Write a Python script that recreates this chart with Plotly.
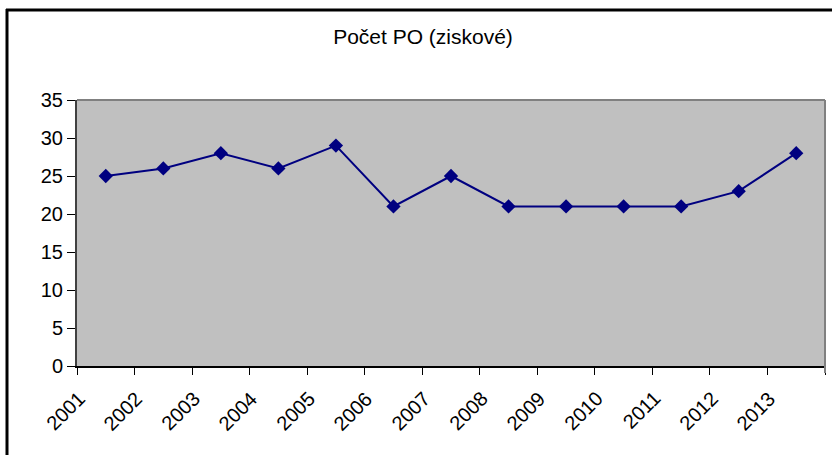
import plotly.graph_objects as go

years = ["2001", "2002", "2003", "2004", "2005", "2006", "2007",
         "2008", "2009", "2010", "2011", "2012", "2013"]
values = [25, 26, 28, 26, 29, 21, 25, 21, 21, 21, 21, 23, 28]
y_ticks = [0, 5, 10, 15, 20, 25, 30, 35]
title_text = "Počet PO (ziskové)"

W, H = 832, 455
L, R, T, B = 77, 825, 100, 366
FAM = "Liberation Sans, Arial, sans-serif"

fig = go.Figure()
fig.add_trace(go.Scatter(
    x=years, y=values, mode="lines+markers",
    line=dict(color="#000080", width=2),
    marker=dict(symbol="diamond", size=11, color="#000080"),
    showlegend=False, cliponaxis=False,
))

# rotated category labels placed below the axis (positioned by category index)
annotations = [
    dict(x=i, y=0, xref="x", yref="y", text=yr, showarrow=False,
         textangle=-45, xanchor="right", yanchor="top",
         xshift=-14, yshift=-18,
         font=dict(family=FAM, size=20, color="black"))
    for i, yr in enumerate(years)
]

fig.update_layout(
    width=W, height=H,
    margin=dict(l=L, r=W - R, t=T, b=H - B, pad=0, autoexpand=False),
    paper_bgcolor="white", plot_bgcolor="#C0C0C0",
    font=dict(family=FAM, size=20, color="black"),
    title=dict(text=title_text, x=423 / W, xanchor="center",
               y=1 - 37 / H, yanchor="middle", automargin=False,
               font=dict(family=FAM, size=21, color="black")),
    xaxis=dict(
        type="category", range=[-0.5, len(years) - 0.5], automargin=False,
        tickson="boundaries", ticks="outside", ticklen=7, tickwidth=1, tickcolor="black",
        showticklabels=False, showgrid=False, zeroline=False,
        showline=True, linecolor="black", linewidth=2,
    ),
    yaxis=dict(
        range=[0, 35], tickvals=y_ticks, ticks="outside", ticklen=8, tickwidth=1,
        tickcolor="black", showgrid=False, zeroline=False, automargin=False,
        showline=True, linecolor="#404040", linewidth=2,
        tickfont=dict(family=FAM, size=20, color="black"),
    ),
    annotations=annotations,
    shapes=[
        dict(type="line", xref="paper", yref="paper", x0=0, x1=1, y0=1, y1=1,
             line=dict(color="#808080", width=2)),
        dict(type="line", xref="paper", yref="paper", x0=1, x1=1,
             y0=(B - 373) / (B - T), y1=1,
             line=dict(color="#808080", width=2)),
        dict(type="line", xref="paper", yref="paper",
             x0=(7 - L) / (R - L), x1=(7 - L) / (R - L),
             y0=(B - 456) / (B - T), y1=(B - 9) / (B - T),
             line=dict(color="black", width=3)),
        dict(type="line", xref="paper", yref="paper",
             x0=(6 - L) / (R - L), x1=(833 - L) / (R - L),
             y0=(B - 10) / (B - T), y1=(B - 10) / (B - T),
             line=dict(color="black", width=3)),
    ],
)

fig.write_html("out.html", config={"displayModeBar": False},
               post_script="document.body.style.margin='0px';")
